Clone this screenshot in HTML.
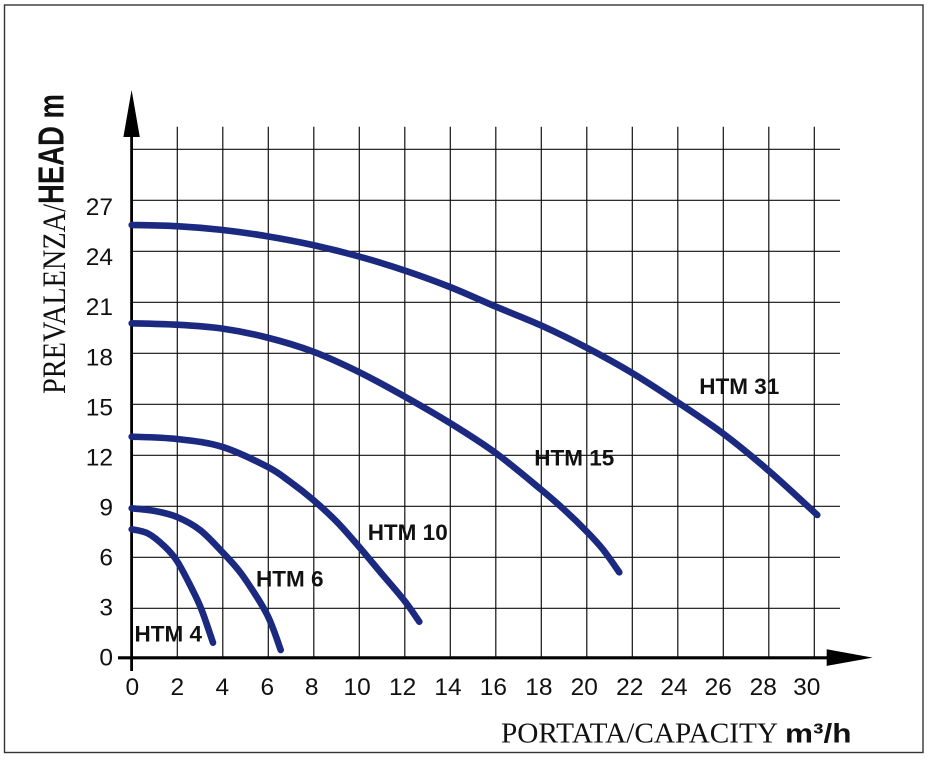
<!DOCTYPE html>
<html>
<head>
<meta charset="utf-8">
<style>
  html, body { margin: 0; padding: 0; background: #fff; }
  body { width: 928px; height: 765px; overflow: hidden; }
  svg { display: block; }
  .tick { font-family: "Liberation Sans", Arial, sans-serif; font-size: 24.5px; fill: #111; }
  .lbl { font-family: "Liberation Sans", Arial, sans-serif; font-size: 22.5px; font-weight: bold; fill: #111; }
  .serif { font-family: "Liberation Serif", "Times New Roman", serif; fill: #111; }
  .bold { font-family: "Liberation Sans", Arial, sans-serif; font-weight: bold; fill: #111; }
</style>
</head>
<body>
<svg id="chart" width="928" height="765" viewBox="0 0 928 765" xmlns="http://www.w3.org/2000/svg">
  <rect x="0" y="0" width="928" height="765" fill="#fff"/>
  <!-- frame -->
  <rect x="4.5" y="5" width="918.5" height="747.5" fill="none" stroke="#333" stroke-width="1.4"/>

  <!-- vertical grid lines -->
  <g stroke="#111" stroke-width="1.2">
    <line x1="177.3" y1="126.7" x2="177.3" y2="657"/>
    <line x1="222.8" y1="126.7" x2="222.8" y2="657"/>
    <line x1="268.3" y1="126.7" x2="268.3" y2="657"/>
    <line x1="313.8" y1="126.7" x2="313.8" y2="657"/>
    <line x1="359.3" y1="126.7" x2="359.3" y2="657"/>
    <line x1="404.8" y1="126.7" x2="404.8" y2="657"/>
    <line x1="450.3" y1="126.7" x2="450.3" y2="657"/>
    <line x1="495.8" y1="126.7" x2="495.8" y2="657"/>
    <line x1="541.3" y1="126.7" x2="541.3" y2="657"/>
    <line x1="586.8" y1="126.7" x2="586.8" y2="657"/>
    <line x1="632.3" y1="126.7" x2="632.3" y2="657"/>
    <line x1="677.8" y1="126.7" x2="677.8" y2="657"/>
    <line x1="723.3" y1="126.7" x2="723.3" y2="657"/>
    <line x1="768.8" y1="126.7" x2="768.8" y2="657"/>
    <line x1="814.3" y1="126.7" x2="814.3" y2="657"/>
  </g>
  <!-- horizontal grid lines -->
  <g stroke="#111" stroke-width="1.2">
    <line x1="131.7" y1="149.3" x2="840" y2="149.3"/>
    <line x1="131.7" y1="200.3" x2="840" y2="200.3"/>
    <line x1="131.7" y1="251.3" x2="840" y2="251.3"/>
    <line x1="131.7" y1="302.3" x2="840" y2="302.3"/>
    <line x1="131.7" y1="353.3" x2="840" y2="353.3"/>
    <line x1="131.7" y1="404.3" x2="840" y2="404.3"/>
    <line x1="131.7" y1="455.3" x2="840" y2="455.3"/>
    <line x1="131.7" y1="506.3" x2="840" y2="506.3"/>
    <line x1="131.7" y1="557.3" x2="840" y2="557.3"/>
    <line x1="131.7" y1="608.3" x2="840" y2="608.3"/>
  </g>

  <!-- axes -->
  <line x1="131.6" y1="134" x2="131.6" y2="671" stroke="#000" stroke-width="2.8"/>
  <polygon points="131.6,90 123.4,137 139.8,137" fill="#000"/>
  <line x1="118" y1="657.8" x2="829" y2="657.8" stroke="#000" stroke-width="3.2"/>
  <polygon points="872.7,657.6 826.7,649.3 826.7,665.9" fill="#000"/>

  <!-- curves -->
  <g id="curves" fill="none" stroke="#1b2a80" stroke-width="6.6" stroke-linecap="round" stroke-linejoin="round">
    <!-- HTM 31 -->
    <polyline points="131.7,225 176.7,226.2 221.7,229.9 267,236.2 313.3,245.1 359,256.5 405,270.6 450,287 495.7,306.6 541,325.4 586.7,347.7 632.7,373.3 678,402.5 723.7,434 769,471 817.3,515"/>
    <!-- HTM 15 -->
    <polyline points="131.7,323.3 176.7,324.7 221.7,328.5 267,337.5 313.3,351.7 359.5,372.3 405,396.7 450.5,423.3 495.7,453 541,489.5 564,509.5 586.7,531.5 603,549.5 619.3,572.3"/>
    <!-- HTM 10 -->
    <polyline points="131.7,436.7 176.7,439 221.7,446.7 267.3,466.7 290,481.7 313.3,500 336.7,521.7 359,546.7 380,571.7 404.3,600.5 419.3,621.7"/>
    <!-- HTM 6 -->
    <polyline points="131.7,508.3 155,511 177,517 200,530 222.3,552 240,572 256.7,596.7 267.3,615 274,631 280.7,650"/>
    <!-- HTM 4 -->
    <polyline points="131.7,529.3 148,533.5 164.7,546.5 177,561 191.3,587.5 201.3,609 213,642.7"/>
  </g>

  <!-- curve labels -->
  <text class="lbl" x="699.3" y="394">HTM 31</text>
  <text class="lbl" x="534.3" y="465.7">HTM 15</text>
  <text class="lbl" x="367.7" y="540">HTM 10</text>
  <text class="lbl" x="256" y="586.7">HTM 6</text>
  <text class="lbl" x="134.5" y="641.5">HTM 4</text>

  <!-- y tick labels -->
  <g class="tick" text-anchor="end">
    <text x="113" y="215.1">27</text>
    <text x="113" y="265.1">24</text>
    <text x="113" y="315.2">21</text>
    <text x="113" y="365.3">18</text>
    <text x="113" y="415.4">15</text>
    <text x="113" y="465.4">12</text>
    <text x="113" y="515.5">9</text>
    <text x="113" y="565.6">6</text>
    <text x="113" y="615.6">3</text>
    <text x="113" y="665.7">0</text>
  </g>

  <!-- x tick labels -->
  <g class="tick" text-anchor="middle">
    <text x="132.3" y="695">0</text>
    <text x="177.3" y="695">2</text>
    <text x="222.3" y="695">4</text>
    <text x="267.3" y="695">6</text>
    <text x="311.7" y="695">8</text>
    <text x="357.1" y="695">10</text>
    <text x="402.6" y="695">12</text>
    <text x="448" y="695">14</text>
    <text x="493.4" y="695">16</text>
    <text x="538.9" y="695">18</text>
    <text x="584.3" y="695">20</text>
    <text x="629.7" y="695">22</text>
    <text x="674" y="695">24</text>
    <text x="718.3" y="695">26</text>
    <text x="763.3" y="695">28</text>
    <text x="806.7" y="695">30</text>
  </g>

  <!-- x axis title -->
  <text class="serif" x="501" y="742.7" font-size="28" textLength="277" lengthAdjust="spacingAndGlyphs">PORTATA/CAPACITY</text>
  <text class="bold" x="785" y="742.7" font-size="27" textLength="66.5" lengthAdjust="spacingAndGlyphs">m³/h</text>

  <!-- y axis title -->
  <text class="serif" font-size="27.8" transform="translate(65,394) rotate(-90) scale(1,1.17)" textLength="190" lengthAdjust="spacingAndGlyphs">PREVALENZA/</text>
  <text class="bold" font-size="27" transform="translate(63.3,204) rotate(-90) scale(1,1.33)" textLength="110" lengthAdjust="spacingAndGlyphs">HEAD m</text>
</svg>
<script>
(function(){
  var ns = "http://www.w3.org/2000/svg";
  var g = document.getElementById("curves");
  var pls = Array.prototype.slice.call(g.getElementsByTagName("polyline"));
  pls.forEach(function(pl){
    var pts = pl.getAttribute("points").trim().split(/\s+/).map(function(s){
      var a = s.split(","); return [parseFloat(a[0]), parseFloat(a[1])];
    });
    var d = "M" + pts[0][0] + "," + pts[0][1];
    for (var i = 0; i < pts.length - 1; i++) {
      var p0 = pts[i-1] || pts[i], p1 = pts[i], p2 = pts[i+1], p3 = pts[i+2] || pts[i+1];
      var c1x = p1[0] + (p2[0]-p0[0])/6, c1y = p1[1] + (p2[1]-p0[1])/6;
      var c2x = p2[0] - (p3[0]-p1[0])/6, c2y = p2[1] - (p3[1]-p1[1])/6;
      if (i === 0) { c1y = p1[1] + (p2[1]-p1[1])/8; }
      d += " C" + c1x.toFixed(2) + "," + c1y.toFixed(2) + " " + c2x.toFixed(2) + "," + c2y.toFixed(2) + " " + p2[0] + "," + p2[1];
    }
    var path = document.createElementNS(ns, "path");
    path.setAttribute("d", d);
    g.insertBefore(path, pl);
    g.removeChild(pl);
  });
})();
</script>
</body>
</html>
